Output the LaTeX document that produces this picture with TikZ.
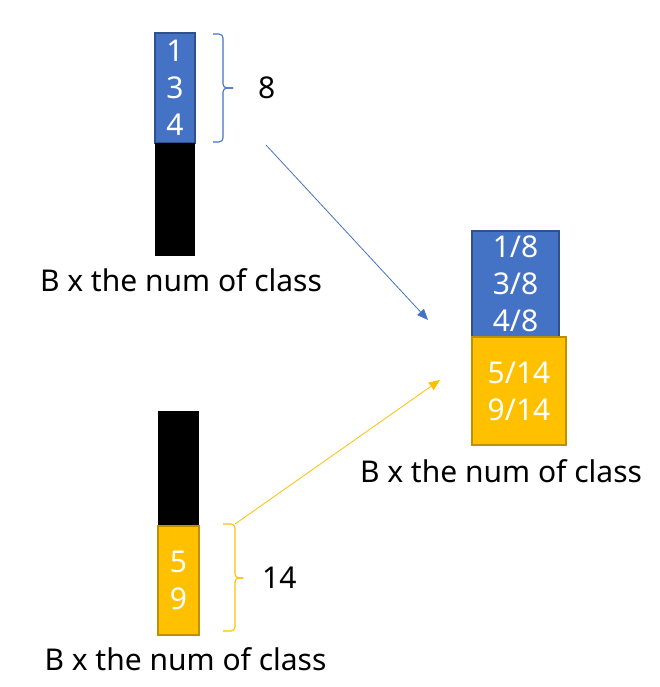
\documentclass[tikz,border=0pt]{standalone}
\usepackage{fontspec}
\setmainfont{Noto Sans}
\usetikzlibrary{positioning,arrows.meta}

\definecolor{officeblue}{HTML}{4472C4}
\definecolor{officeblueline}{HTML}{2F528F}
\definecolor{officegold}{HTML}{FFC000}
\definecolor{officegoldline}{HTML}{BF9000}

\tikzset{
  cell/.style={inner sep=0pt, outer sep=0pt, align=center, text=white,
    font=\fontsize{30}{37}\selectfont},
  bluecell/.style={cell, fill=officeblue, draw=officeblueline, line width=1.2pt},
  goldcell/.style={cell, fill=officegold, draw=officegoldline, line width=1.2pt},
  blackcell/.style={cell, fill=black},
  caption/.style={inner sep=0pt, font=\fontsize{30}{36}\selectfont},
  bracelabel/.style={inner sep=0pt, text=black, font=\fontsize{30}{36}\selectfont},
  curly/.style={line width=1.1pt, rounded corners=4pt}
}

\begin{document}
\begin{tikzpicture}[x=1pt, y=-1pt]
  \useasboundingbox (0,0) rectangle (660,687);

  % Upper batch
  \node[bluecell, minimum width=40pt, minimum height=110pt] (upblue) at (175,88)
    {1\\3\\4};
  \node[blackcell, minimum width=40pt, minimum height=113pt, below=0pt of upblue]
    (upblack) {};
  \node[caption, below=12pt of upblack, xshift=6pt] (upcaption)
    {B x the num of class};

  % Upper brace
  \coordinate (bluetop) at ([xshift=18pt, yshift=-1pt]upblue.north east);
  \coordinate (bluebar) at ([xshift=28pt]upblue.east);
  \coordinate (bluebot) at ([xshift=18pt, yshift=1pt]upblue.south east);
  \coordinate (bluetip) at ([xshift=10pt]bluebar);
  \draw[curly, officeblue] (bluetop) -| (bluebar) -- (bluetip);
  \draw[curly, officeblue] (bluetip) -- (bluebar) |- (bluebot);
  \node[bracelabel, right=25pt of bluetip] (eight) {8};

  % Lower batch
  \node[blackcell, minimum width=41pt, minimum height=115pt] (lowblack) at (178.5,468.5) {};
  \node[goldcell, minimum width=41pt, minimum height=109pt, below=0pt of lowblack]
    (lowgold) {5\\9};
  \node[caption, below=12pt of lowgold, xshift=7pt] (lowcaption)
    {B x the num of class};

  % Lower brace
  \coordinate (goldtop) at ([xshift=24pt, yshift=2pt]lowgold.north east);
  \coordinate (goldbar) at ([xshift=36pt, yshift=2.5pt]lowgold.east);
  \coordinate (goldbot) at ([xshift=24pt, yshift=4pt]lowgold.south east);
  \coordinate (goldtip) at ([xshift=8pt]goldbar);
  \draw[curly, officegold] (goldtop) -| (goldbar) -- (goldtip);
  \draw[curly, officegold] (goldtip) -- (goldbar) |- (goldbot);
  \node[bracelabel, right=19pt of goldtip] (fourteen) {14};

  % Merged batch
  \node[bluecell, minimum width=87pt, minimum height=106pt] (mixblue) at (515.5,284)
    {1/8\\3/8\\4/8};
  \node[goldcell, minimum width=94pt, minimum height=108pt,
    below right=0pt and 0pt of mixblue.south west] (mixgold) {5/14\\9/14};
  \node[caption, below=14pt of mixgold, xshift=-18pt] (mixcaption)
    {B x the num of class};

  % Arrows
  \coordinate (bluefrom) at (266,145);
  \coordinate (blueto) at (428,320);
  \coordinate (goldfrom) at (goldtop -| goldbar);
  \coordinate (goldto) at (440,380);
  \draw[officeblue, line width=0.8pt, -{Triangle[length=11pt, width=9pt]}]
    (bluefrom) -- (blueto);
  \draw[officegold, line width=0.8pt, -{Triangle[length=11pt, width=9pt]}]
    (goldfrom) -- (goldto);
\end{tikzpicture}
\end{document}
